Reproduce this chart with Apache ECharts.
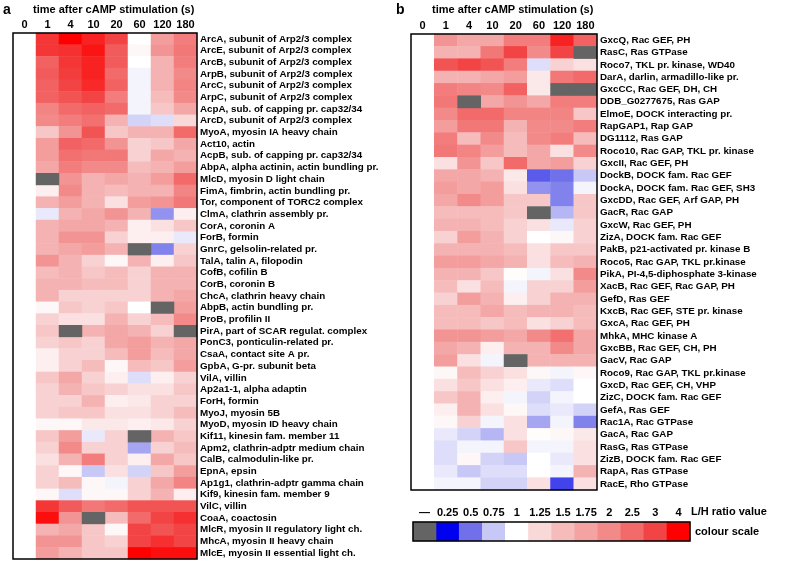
<!DOCTYPE html>
<html><head><meta charset="utf-8">
<script src="https://cdn.jsdelivr.net/npm/echarts@6/dist/echarts.min.js"></script>
<style>html,body{margin:0;padding:0;background:#fff}#c{width:800px;height:572px}</style>
</head><body><div id="c"></div>
<script>
const times = ['0','1','4','10','20','60','120','180'];

const labelsA = ['ArcA, subunit of Arp2/3 complex','ArcE, subunit of Arp2/3 complex','ArcB, subunit of Arp2/3 complex','ArpB, subunit of Arp2/3 complex','ArcC, subunit of Arp2/3 complex','ArpC, subunit of Arp2/3 complex','AcpA, sub. of capping pr. cap32/34','ArcD, subunit of Arp2/3 complex','MyoA, myosin IA heavy chain','Act10, actin','AcpB, sub. of capping pr. cap32/34','AbpA, alpha actinin, actin bundling pr.','MlcD, myosin D light chain','FimA, fimbrin, actin bundling pr.','Tor, component of TORC2 complex','ClmA, clathrin assembly pr.','CorA, coronin A','ForB, formin','GnrC, gelsolin-related pr.','TalA, talin A, filopodin','CofB, cofilin B','CorB, coronin B','ChcA, clathrin heavy chain','AbpB, actin bundling pr.','ProB, profilin II','PirA, part of SCAR regulat. complex','PonC3, ponticulin-related pr.','CsaA, contact site A pr.','GpbA, G-pr. subunit beta','VilA, villin','Ap2a1-1, alpha adaptin','ForH, formin','MyoJ, myosin 5B','MyoD, myosin ID heavy chain','Kif11, kinesin fam. member 11','Apm2, clathrin-adptr medium chain','CalB, calmodulin-like pr.','EpnA, epsin','Ap1g1, clathrin-adptr gamma chain','Kif9, kinesin fam. member 9','VilC, villin','CoaA, coactosin','MlcR, myosin II regulatory light ch.','MhcA, myosin II heavy chain','MlcE, myosin II essential light ch.'];

// L/H ratios, columns = times (0,1,4,10,20,60,120,180); null = no value
const ratiosA = [
[1,3.2,4.0,3.5,3.0,1.0,1.8,2.2],
[1,3.2,3.3,3.7,2.7,1.05,1.9,2.3],
[1,2.6,3.2,3.5,2.7,1.0,1.6,2.2],
[1,2.7,3.1,3.5,2.5,0.95,1.6,2.0],
[1,2.6,3.0,3.4,2.6,0.95,1.6,2.1],
[1,2.6,2.8,3.0,2.2,0.95,1.5,2.0],
[1,2.1,2.5,2.6,2.5,0.95,1.4,1.7],
[1,2.0,2.2,2.4,1.6,0.8,0.85,1.25],
[1,1.4,1.9,2.8,1.4,1.6,1.6,2.5],
[1,1.8,2.6,2.5,1.9,1.3,1.4,1.7],
[1,1.8,2.4,2.3,2.3,1.3,1.7,1.6],
[1,1.7,2.2,2.0,2.0,1.5,1.6,1.8],
[1,null,1.9,1.6,1.7,1.6,1.8,2.5],
[1,1.1,2.0,1.6,1.5,1.6,1.6,2.1],
[1,1.6,1.8,1.6,1.2,1.8,1.9,2.3],
[1,0.9,1.6,1.7,1.9,1.6,0.6,1.1],
[1,1.6,1.7,1.7,1.6,1.1,1.2,1.4],
[1,1.6,1.9,1.9,1.3,1.1,1.1,0.9],
[1,1.6,1.7,1.8,1.6,null,0.55,1.3],
[1,1.9,1.6,1.3,1.05,1.6,1.1,1.4],
[1,1.5,1.6,1.4,1.5,1.3,1.6,1.6],
[1,1.6,1.6,1.5,1.5,1.3,1.6,1.6],
[1,1.6,1.3,1.3,1.3,1.3,1.6,1.7],
[1,1.05,1.4,1.3,1.4,1.0,null,1.8],
[1,1.3,1.2,1.2,1.6,1.3,1.5,2.0],
[1,1.4,null,1.6,1.7,1.6,1.3,null],
[1,1.3,1.4,1.3,1.7,1.8,1.6,1.7],
[1,1.1,1.3,1.3,1.5,1.8,1.5,1.7],
[1,1.1,1.3,1.5,1.05,1.5,1.4,1.8],
[1,1.4,1.7,1.3,1.1,0.85,1.1,1.3],
[1,1.3,1.6,1.4,1.3,1.2,1.2,1.4],
[1,1.3,1.3,1.6,1.1,1.15,1.3,1.3],
[1,1.3,1.4,1.4,1.2,1.2,1.3,1.5],
[1,1.05,1.05,1.15,1.15,1.1,1.15,1.3],
[1,1.4,1.8,0.9,1.3,null,1.6,1.4],
[1,1.3,2.0,1.3,1.3,0.65,1.3,1.5],
[1,1.2,1.6,2.2,1.3,1.1,1.7,1.4],
[1,1.3,1.05,0.75,1.2,0.8,1.4,1.8],
[1,1.3,1.5,1.05,0.95,1.3,1.7,2.1],
[1,1.05,0.85,1.05,1.05,1.3,1.6,1.1],
[1,3.2,2.7,2.3,2.5,2.8,2.8,2.8],
[1,3.8,1.9,null,1.5,2.5,3.0,3.3],
[1,1.6,1.7,1.4,1.05,3.0,2.8,3.0],
[1,1.9,1.9,1.4,1.3,3.0,3.3,3.0],
[1,1.8,1.6,1.4,1.4,4.0,3.8,3.8]
];

const labelsB = ['GxcQ, Rac GEF, PH','RasC, Ras GTPase','Roco7, TKL pr. kinase, WD40','DarA, darlin, armadillo-like pr.','GxcCC, Rac GEF, DH, CH','DDB_G0277675, Ras GAP','ElmoE, DOCK interacting pr.','RapGAP1, Rap GAP','DG1112, Ras GAP','Roco10, Rac GAP, TKL pr. kinase','GxcII, Rac GEF, PH','DockB, DOCK fam. Rac GEF','DockA, DOCK fam. Rac GEF, SH3','GxcDD, Rac GEF, Arf GAP, PH','GacR, Rac GAP','GxcW, Rac GEF, PH','ZizA, DOCK fam. Rac GEF','PakB, p21-activated pr. kinase B','Roco5, Rac GAP, TKL pr.kinase','PikA, PI-4,5-diphosphate 3-kinase','XacB, Rac GEF, Rac GAP, PH','GefD, Ras GEF','KxcB, Rac GEF, STE pr. kinase','GxcA, Rac GEF, PH','MhkA, MHC kinase A','GxcBB, Rac GEF, CH, PH','GacV, Rac GAP','Roco9, Rac GAP, TKL pr.kinase','GxcD, Rac GEF, CH, VHP','ZizC, DOCK fam. Rac GEF','GefA, Ras GEF','Rac1A, Rac GTPase','GacA, Rac GAP','RasG, Ras GTPase','ZizB, DOCK fam. Rac GEF','RapA, Ras GTPase','RacE, Rho GTPase'];

const ratiosB = [
[1,1.9,1.7,1.7,2.2,2.2,3.5,2.6],
[1,1.6,1.6,2.3,3.0,2.0,3.0,null],
[1,2.8,3.0,2.8,2.2,0.85,1.3,1.2],
[1,1.6,1.6,1.7,1.8,1.15,2.3,2.5],
[1,2.2,2.1,2.0,2.6,1.15,null,null],
[1,2.3,null,1.7,1.9,1.7,2.2,2.2],
[1,2.0,2.5,2.5,2.1,2.1,2.1,1.4],
[1,1.8,2.3,2.3,1.6,2.0,2.0,2.2],
[1,2.2,1.5,2.0,1.5,2.0,2.2,1.5],
[1,2.3,2.1,1.8,1.5,1.7,1.2,2.0],
[1,1.2,1.9,1.4,2.5,1.7,1.8,1.3],
[1,1.7,1.7,1.6,1.15,0.45,0.5,0.75],
[1,1.8,1.7,1.8,1.2,0.6,0.55,0.95],
[1,1.7,2.0,1.8,1.4,1.4,0.55,1.4],
[1,1.5,1.5,1.5,1.4,null,0.7,1.4],
[1,1.6,1.6,1.5,1.3,1.2,0.9,1.3],
[1,1.3,1.8,1.6,1.3,1.0,1.05,1.3],
[1,1.6,1.6,1.6,1.5,1.2,1.4,1.4],
[1,1.8,1.8,1.7,1.6,1.2,1.5,1.6],
[1,1.6,1.6,1.4,1.02,0.95,1.2,2.0],
[1,1.5,1.2,1.5,0.95,1.3,1.3,1.8],
[1,1.3,1.8,1.6,1.1,1.3,1.6,1.6],
[1,1.5,1.5,1.7,1.5,1.6,1.6,1.5],
[1,1.5,1.5,1.4,1.5,1.2,1.3,1.5],
[1,1.9,1.9,1.8,1.7,2.0,2.4,1.7],
[1,1.7,1.6,1.1,1.6,1.6,2.0,1.7],
[1,1.8,1.2,0.95,null,1.6,1.6,1.6],
[1,1.05,1.5,1.3,1.2,1.05,0.95,1.05],
[1,1.2,1.4,1.2,1.1,0.9,0.85,1.0],
[1,1.4,1.6,1.1,0.95,0.8,0.95,1.0],
[1,1.1,1.6,1.2,1.05,0.85,0.9,0.8],
[1,1.05,1.3,0.95,1.2,0.65,0.95,0.55],
[1,0.9,0.8,0.7,1.2,1.02,1.05,1.15],
[1,0.85,0.95,0.95,1.4,0.95,0.95,1.2],
[1,0.85,1.05,0.8,0.75,1.0,0.9,1.2],
[1,0.9,0.75,0.85,0.85,1.0,0.95,1.6],
[1,0.95,0.95,0.8,0.8,1.2,0.4,1.2]
];

// colour scale
const scaleLabels = ['\u2014','0.25','0.5','0.75','1','1.25','1.5','1.75','2','2.5','3','4'];
const scaleRatios = [null,0.25,0.5,0.75,1,1.25,1.5,1.75,2,2.5,3,4];
const levelColors = ['#0000f0','#7070ea','#c8c8f6','#ffffff','#f9d8d8','#f6bcbc','#f4a2a2','#f38a8a','#f26a6a','#f24444','#ff0000'];
const missingColor = '#646464';

const stops = scaleRatios.slice(1);
function toLevel(r){
  if (r <= stops[0]) return 1;
  for (let k=1;k<stops.length;k++){
    if (r <= stops[k]) return k + (r-stops[k-1])/(stops[k]-stops[k-1]);
  }
  return stops.length;
}
function build(ratios){
  const vals=[], miss=[];
  ratios.forEach((row,i)=>row.forEach((v,j)=>{
    if (v===null) miss.push([j,i,0]); else vals.push([j,i,toLevel(v)]);
  }));
  return {vals, miss};
}
const A = build(ratiosA), B = build(ratiosB);
const S = build([scaleRatios]);

const gA = {left:13, top:33, width:184, height:526};
const gB = {left:411, top:34, width:186, height:456};
const gS = {left:413, top:522, width:277, height:19};

const font = 'Liberation Sans, Arial, sans-serif';
function frame(g){
  return {type:'rect', z:100, shape:{x:g.left,y:g.top,width:g.width,height:g.height},
    style:{fill:null, stroke:'#000', lineWidth:1.5}};
}
function txt(x,y,t,size,extra){
  return Object.assign({type:'text', x:x, y:y, z:100, style:{text:t, font:'bold '+size+'px '+font, fill:'#000'}}, extra||{});
}

const chart = echarts.init(document.getElementById('c'), null, {renderer:'canvas'});
const xLab = {fontFamily:font, fontWeight:'bold', fontSize:11, color:'#000', margin:3, interval:0};
const yLab = {fontFamily:font, fontWeight:'bold', fontSize:9.8, color:'#000', margin:3, interval:0};
chart.setOption({
  animation:false,
  backgroundColor:'#fff',
  grid:[
    Object.assign({containLabel:false}, gA),
    Object.assign({containLabel:false}, gB),
    Object.assign({containLabel:false}, gS)
  ],
  xAxis:[
    {type:'category', gridIndex:0, data:times, position:'top', axisLine:{show:false}, axisTick:{show:false}, axisLabel:xLab, splitLine:{show:false}},
    {type:'category', gridIndex:1, data:times, position:'top', axisLine:{show:false}, axisTick:{show:false}, axisLabel:xLab, splitLine:{show:false}},
    {type:'category', gridIndex:2, data:scaleLabels, position:'top', axisLine:{show:false}, axisTick:{show:false}, axisLabel:Object.assign({}, xLab, {margin:4}), splitLine:{show:false}}
  ],
  yAxis:[
    {type:'category', gridIndex:0, data:labelsA, inverse:true, position:'right', axisLine:{show:false}, axisTick:{show:false}, axisLabel:yLab},
    {type:'category', gridIndex:1, data:labelsB, inverse:true, position:'right', axisLine:{show:false}, axisTick:{show:false}, axisLabel:yLab},
    {type:'category', gridIndex:2, data:['scale'], position:'right', axisLine:{show:false}, axisTick:{show:false}, axisLabel:{show:false}}
  ],
  visualMap:[{
    type:'continuous', show:false, min:1, max:11, seriesIndex:[0,2,4], dimension:2,
    inRange:{color:levelColors}
  }],
  series:[
    {type:'heatmap', xAxisIndex:0, yAxisIndex:0, data:A.vals, itemStyle:{borderWidth:0}},
    {type:'heatmap', xAxisIndex:0, yAxisIndex:0, data:A.miss, itemStyle:{color:missingColor, borderWidth:0}},
    {type:'heatmap', xAxisIndex:1, yAxisIndex:1, data:B.vals, itemStyle:{borderWidth:0}},
    {type:'heatmap', xAxisIndex:1, yAxisIndex:1, data:B.miss, itemStyle:{color:missingColor, borderWidth:0}},
    {type:'heatmap', xAxisIndex:2, yAxisIndex:2, data:S.vals, itemStyle:{borderWidth:0}},
    {type:'heatmap', xAxisIndex:2, yAxisIndex:2, data:S.miss, itemStyle:{color:missingColor, borderWidth:0}}
  ],
  graphic:[
    frame(gA), frame(gB), frame(gS),
    txt(3,3,'a',14),
    txt(396,3,'b',14),
    txt(33,4,'time after cAMP stimulation (s)',11),
    txt(432,4,'time after cAMP stimulation (s)',11),
    txt(691,506,'L/H ratio value',11),
    txt(695,526,'colour scale',11)
  ]
});
</script></body></html>
